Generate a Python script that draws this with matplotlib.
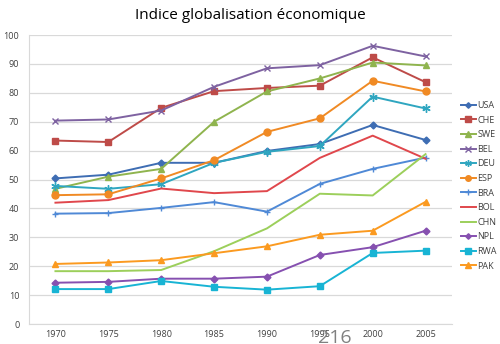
import matplotlib
matplotlib.use("Agg")
import matplotlib.pyplot as plt
import numpy as np

plt.rcParams['font.family'] = ['Open Sans', 'DejaVu Sans']

years = ['1970', '1975', '1980', '1985', '1990', '1995', '2000', '2005']

usa = [50.4, 51.7, 55.8, 55.8, 59.9, 62.3, 68.9, 63.7]
che = [63.5, 63.0, 74.8, 80.6, 81.7, 82.5, 92.3, 83.7]
swe = [46.8, 51.0, 53.7, 70.0, 80.5, 85.0, 90.5, 89.5]
bel = [70.4, 70.8, 73.9, 82.1, 88.5, 89.6, 96.3, 92.6]
deu = [47.8, 46.8, 48.4, 55.8, 59.6, 61.6, 78.7, 74.6]
esp = [44.6, 44.9, 50.4, 56.7, 66.5, 71.2, 84.2, 80.5]
bra = [38.2, 38.4, 40.2, 42.2, 38.9, 48.5, 53.7, 57.6]
bol = [42.0, 42.9, 46.9, 45.3, 46.0, 57.5, 65.2, 57.2]
chn = [18.3, 18.3, 18.7, 25.2, 33.1, 45.1, 44.5, 58.8]
npl = [14.3, 14.6, 15.7, 15.7, 16.4, 23.9, 26.6, 32.3]
rwa = [12.1, 12.1, 14.9, 12.9, 11.9, 13.1, 24.6, 25.4]
pak = [20.8, 21.3, 22.1, 24.5, 26.9, 30.9, 32.3, 42.3]

# name, values, colour, marker, marker size
series = [
    ('USA', usa, '#3e6db3', 'D', 3.5),
    ('CHE', che, '#be4b48', 's', 5),
    ('SWE', swe, '#8fb44e', '^', 5),
    ('BEL', bel, '#7e62a1', 'x', 5),
    ('DEU', deu, '#2fa6c0', (6, 2, 0), 6),
    ('ESP', esp, '#f08a24', 'o', 5),
    ('BRA', bra, '#4f89d6', '+', 5),
    ('BOL', bol, '#e0474c', None, 0),
    ('CHN', chn, '#9ccf5b', None, 0),
    ('NPL', npl, '#8650b0', 'D', 3.5),
    ('RWA', rwa, '#18b4d4', 's', 5),
    ('PAK', pak, '#fb9a20', '^', 5),
]

fig = plt.figure(figsize=(5, 3.44), dpi=100)
ax = fig.add_axes([0.058, 0.058, 0.846, 0.84])

x = np.arange(len(years))
for name, vals, col, mk, ms in series:
    ax.plot(x, vals, color=col, marker=mk, markersize=ms, linewidth=1.4,
            markeredgewidth=1.0, label=name)

ax.set_xlim(-0.5, len(years) - 0.5)
ax.set_ylim(0, 100)
ax.set_yticks(range(0, 101, 10))
ax.set_xticks(x)
ax.set_xticklabels(years)
ax.tick_params(axis='both', length=0, labelsize=6.5, colors='#404040')
ax.tick_params(axis='y', pad=7)
ax.tick_params(axis='x', pad=4)
ax.grid(axis='y', color='#d9d9d9', linewidth=0.9)
ax.set_axisbelow(True)
for s in ['top', 'right']:
    ax.spines[s].set_visible(False)
ax.spines['left'].set_color('#d9d9d9')
ax.spines['bottom'].set_color('#d9d9d9')

fig.text(0.5, 0.955, 'Indice globalisation économique', ha='center', va='center',
         fontsize=11, color='#000000')

fig.legend(loc='center left', bbox_to_anchor=(0.915, 0.46), frameon=False,
           fontsize=6.5, handlelength=1.6, handletextpad=0.2, labelspacing=0.62,
           borderaxespad=0, markerscale=0.8, labelcolor='#404040')

# slide page number showing through at the bottom
fig.text(0.67, 0.045, '216', ha='center', va='top', fontsize=14, color='#808080')

fig.savefig('out.png', dpi=100)
